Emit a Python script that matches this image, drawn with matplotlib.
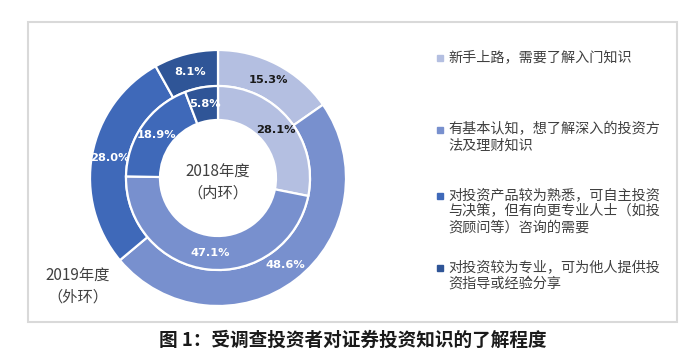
import matplotlib
matplotlib.use("Agg")
import matplotlib.pyplot as plt
from matplotlib.patches import Rectangle
from matplotlib.lines import Line2D

plt.rcParams['font.family'] = ['Noto Sans CJK SC', 'DejaVu Sans']

# data
categories = ['新手上路，需要了解入门知识',
              '有基本认知，想了解深入的投资方\n法及理财知识',
              '对投资产品较为熟悉，可自主投资\n与决策，但有向更专业人士（如投\n资顾问等）咨询的需要',
              '对投资较为专业，可为他人提供投\n资指导或经验分享']
values_2019 = [15.3, 48.6, 28.0, 8.1]   # outer ring
values_2018 = [28.1, 47.1, 18.9, 5.8]   # inner ring
colors = ['#B4BFE1', '#7890CE', '#3F69B9', '#2F5597']
label_colors = ['#1a1a1a', 'white', 'white', 'white']
title = '图 1：受调查投资者对证券投资知识的了解程度'

W, H = 700, 356
fig = plt.figure(figsize=(W / 100, H / 100), dpi=100)

def fx(x):
    return x / W

def fy(y):
    return 1 - y / H

# frame around the chart
fig.add_artist(Rectangle((fx(28), fy(322)), fx(677) - fx(28), fy(22) - fy(322),
                         transform=fig.transFigure, fill=False,
                         edgecolor='#D9D9D9', linewidth=1.5))

# pie axes: center (218,178), radius 128 px
cx, cy, r = 218, 178, 128
ax = fig.add_axes([fx(cx - r), fy(cy + r), 2 * r / W, 2 * r / H])

outer_w = 36 / r
inner_r = 92 / r
inner_w = 34 / r

wedges_o, _, auto_o = ax.pie(values_2019, radius=1, colors=colors, startangle=90,
                             counterclock=False, autopct='%.1f%%', pctdistance=110 / r,
                             wedgeprops=dict(width=outer_w, edgecolor='white', linewidth=1.6))
wedges_i, _, auto_i = ax.pie(values_2018, radius=inner_r, colors=colors, startangle=90,
                             counterclock=False, autopct='%.1f%%', pctdistance=75 / 92,
                             wedgeprops=dict(width=inner_w, edgecolor='white', linewidth=1.6))

for texts, vals in ((auto_o, values_2019), (auto_i, values_2018)):
    for t, v, c in zip(texts, vals, label_colors):
        t.set_text(f'{v:.1f}%')
        t.set_color(c)
        t.set_fontsize(8.2)
        t.set_fontweight('bold')
        t.set_family(['DejaVu Sans'])

ax.set_xlim(-1, 1)
ax.set_ylim(-1, 1)
ax.set_aspect('equal')

text_col = '#404040'
ax.text(0, -0.035, '2018年度\n（内环）', ha='center', va='center', fontsize=11,
        color=text_col, linespacing=1.3)
fig.text(fx(78), fy(287), '2019年度\n（外环）', ha='center', va='center', fontsize=11,
         color=text_col, linespacing=1.3)

# legend
leg_y = [58, 130, 196, 268]
for lab, col, y in zip(categories, colors, leg_y):
    fig.add_artist(Line2D([fx(440)], [fy(y)], marker='s', markersize=3.8, color=col,
                          linestyle='none', transform=fig.transFigure))
    fig.text(fx(448), fy(y - 8), lab, ha='left', va='top', fontsize=10.2, color=text_col,
             linespacing=1.2, transform=fig.transFigure)

fig.text(fx(353), fy(340), title, ha='center', va='center', fontsize=13.4,
         fontweight='bold', color='#1a1a1a')

fig.savefig('out.png', dpi=100)
